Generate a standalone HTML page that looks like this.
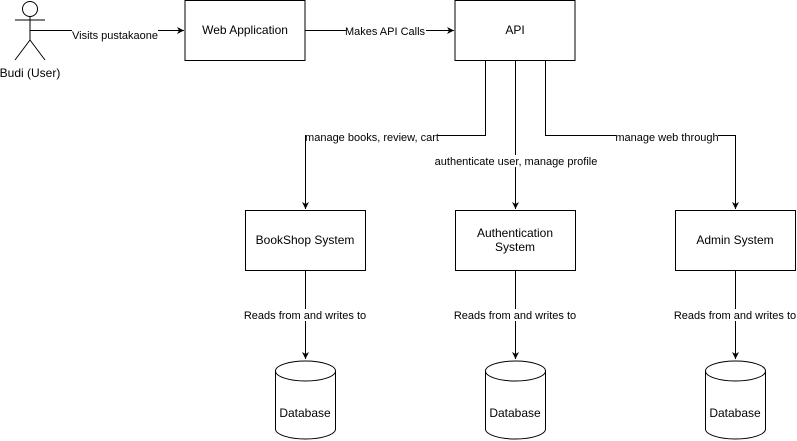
<!DOCTYPE html>
<html><head><style>body{margin:0;background:#fff}svg{display:block}text{font-family:"Liberation Sans",Arial,sans-serif;font-size:11px;fill:#000}</style></head>
<body>
<svg width="797" height="441" viewBox="0 0 797 441" xmlns="http://www.w3.org/2000/svg">
<defs><marker id="a" markerWidth="8" markerHeight="8" refX="7" refY="4" orient="auto" markerUnits="userSpaceOnUse"><path d="M0,0.5 L7,4 L0,7.5 L2,4 Z" fill="#000"/></marker></defs>
<g fill="none" stroke="#000" stroke-width="1">
<circle cx="30" cy="9" r="7.5" fill="#fff"/>
<path d="M30,16.5 V40 M15,20 H45 M30,40 L15,60 M30,40 L45,60"/>
<rect x="185" y="0.5" width="120" height="60" fill="#fff"/>
<rect x="455" y="0.5" width="120" height="60" fill="#fff"/>
<rect x="245.5" y="210.5" width="120" height="60" fill="#fff"/>
<rect x="455.5" y="210.5" width="120" height="60" fill="#fff"/>
<rect x="675.5" y="210.5" width="120" height="60" fill="#fff"/>
<path d="M30,30.5 H184" marker-end="url(#a)"/>
<path d="M305,30.5 H454" marker-end="url(#a)"/>
<path d="M485.5,60 V135.5 H305.5 V209" marker-end="url(#a)"/>
<path d="M515.5,60 V209" marker-end="url(#a)"/>
<path d="M545.5,60 V135.5 H735.5 V209" marker-end="url(#a)"/>
<path d="M305.5,270 V359" marker-end="url(#a)"/>
<path d="M515.5,270 V359" marker-end="url(#a)"/>
<path d="M735.5,270 V359" marker-end="url(#a)"/>
</g>
<g fill="#fff" stroke="#000">
<path d="M275.5,371 A30,10 0 0 1 335.5,371 V429 A30,10 0 0 1 275.5,429 Z"/><path d="M275.5,371 A30,10 0 0 0 335.5,371" fill="none"/>
<path d="M485.5,371 A30,10 0 0 1 545.5,371 V429 A30,10 0 0 1 485.5,429 Z"/><path d="M485.5,371 A30,10 0 0 0 545.5,371" fill="none"/>
<path d="M705.5,371 A30,10 0 0 1 765.5,371 V429 A30,10 0 0 1 705.5,429 Z"/><path d="M705.5,371 A30,10 0 0 0 765.5,371" fill="none"/>
</g>
<g text-anchor="middle">
<text x="30" y="77" style="font-size:12px">Budi (User)</text>
<text x="245" y="34" style="font-size:12px">Web Application</text>
<text x="515" y="34" style="font-size:12px">API</text>
<text x="305" y="244" style="font-size:12px">BookShop System</text>
<text x="515" y="237" style="font-size:12px">Authentication</text>
<text x="515" y="251" style="font-size:12px">System</text>
<text x="735" y="244" style="font-size:12px">Admin System</text>
<text x="305" y="417" style="font-size:12px">Database</text>
<text x="515" y="417" style="font-size:12px">Database</text>
<text x="735" y="417" style="font-size:12px">Database</text>
</g>
<g text-anchor="middle">
<rect x="72" y="29" width="86" height="12" fill="#fff"/><text x="115" y="39">Visits pustakaone</text>
<rect x="346" y="25" width="80" height="12" fill="#fff"/><text x="385" y="35">Makes API Calls</text>
<rect x="306" y="131" width="132" height="12" fill="#fff"/><text x="372" y="141">manage books, review, cart</text>
<rect x="435" y="155" width="163" height="12" fill="#fff"/><text x="516" y="165">authenticate user, manage profile</text>
<rect x="616" y="131" width="102" height="12" fill="#fff"/><text x="667" y="141">manage web through</text>
<rect x="244" y="309" width="123" height="12" fill="#fff"/><text x="305" y="319">Reads from and writes to</text>
<rect x="454" y="309" width="123" height="12" fill="#fff"/><text x="515" y="319">Reads from and writes to</text>
<rect x="674" y="309" width="123" height="12" fill="#fff"/><text x="735" y="319">Reads from and writes to</text>
</g>
</svg>
</body></html>
